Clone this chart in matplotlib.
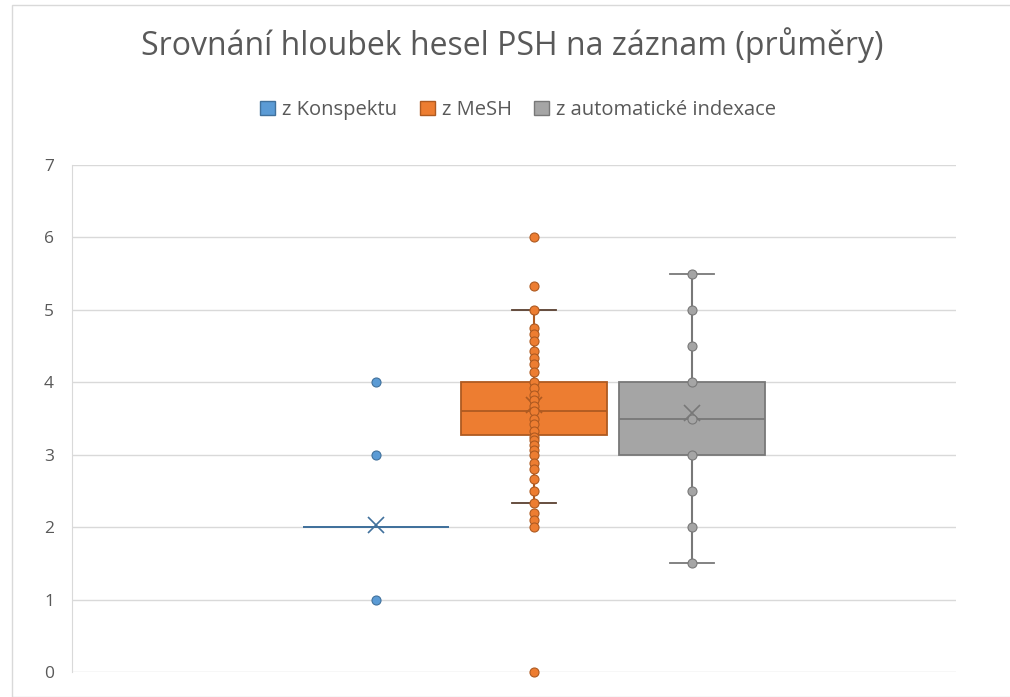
import matplotlib
matplotlib.use('Agg')
import matplotlib.pyplot as plt
from matplotlib.patches import Patch, Rectangle

# datos
series = ['z Konspektu', 'z MeSH', 'z automatické indexace']
colors = ['#5B9BD5', '#ED7D31', '#A5A5A5']
edge_colors = ['#41719C', '#AE5A21', '#787878']
cap_colors = ['#41719C', '#5a4030', '#787878']

points_konspekt = [1, 3, 4]
points_mesh = [6.0, 5.33, 5.0, 4.75, 4.67, 4.57, 4.43, 4.33, 4.25, 4.14, 4.0, 3.92,
               3.83, 3.75, 3.67, 3.6, 3.5, 3.43, 3.33, 3.25, 3.2, 3.13, 3.07, 3.0,
               2.88, 2.8, 2.67, 2.5, 2.33, 2.2, 2.1, 2.0, 0.0]
points_auto = [1.5, 2.0, 2.5, 3.0, 3.5, 4.0, 4.5, 5.0, 5.5]

q1 = [2.0, 3.27, 3.0]
medians = [2.0, 3.6, 3.5]
q3 = [2.0, 4.0, 4.0]
whisker_lo = [2.0, 2.33, 1.5]
whisker_hi = [2.0, 5.0, 5.5]
means = [2.03, 3.68, 3.57]

all_points = [points_konspekt, points_mesh, points_auto]
positions = [1, 2, 3]

fig = plt.figure(figsize=(10.1, 6.97), dpi=100)
fig.patches.append(Rectangle((12 / 1010, 0), 1.2, 1 - 5 / 697, transform=fig.transFigure,
                             fill=False, edgecolor='#d9d9d9', linewidth=1))
ax = fig.add_axes([72 / 1010, 1 - 672 / 697, 884 / 1010, 507 / 697])

for i in range(3):
    stats = [{'q1': q1[i], 'med': medians[i], 'q3': q3[i],
              'whislo': whisker_lo[i], 'whishi': whisker_hi[i], 'mean': means[i]}]
    show_caps = whisker_hi[i] > q3[i]
    ax.bxp(stats, positions=[positions[i]], widths=0.918, patch_artist=True,
           showcaps=show_caps, showfliers=False, showmeans=True, capwidths=0.28,
           boxprops=dict(facecolor=colors[i], edgecolor=edge_colors[i], linewidth=1.3),
           medianprops=dict(color=edge_colors[i], linewidth=1.3),
           whiskerprops=dict(color=edge_colors[i], linewidth=1.5),
           capprops=dict(color=cap_colors[i], linewidth=1.3),
           meanprops=dict(marker='x', markeredgecolor=edge_colors[i], markersize=11,
                          markeredgewidth=1.2), zorder=2)
    ax.plot([positions[i]] * len(all_points[i]), all_points[i], 'o', color=colors[i],
            markeredgecolor=edge_colors[i], markersize=6.5, markeredgewidth=0.8,
            zorder=3, clip_on=False)

ax.set_xlim(-0.924, 4.671)
ax.set_ylim(0, 7)
ax.set_yticks(range(8))
ax.set_xticks([])
ax.grid(axis='y', color='#d9d9d9', linewidth=1)
ax.set_axisbelow(True)
for s in ['top', 'right', 'bottom']:
    ax.spines[s].set_visible(False)
ax.spines['left'].set_color('#d9d9d9')
ax.tick_params(axis='y', length=0, pad=13, labelsize=12.5, labelcolor='#595959')
for lab in ax.get_yticklabels():
    lab.set_fontfamily('Open Sans')

fig.text(0.507, 1 - 45 / 697, 'Srovnání hloubek hesel PSH na záznam (průměry)',
         ha='center', va='center', fontsize=23, color='#595959', family='Open Sans')

handles = [Patch(facecolor=c, edgecolor=e) for c, e in zip(colors, edge_colors)]
fig.legend(handles, series, loc='center', bbox_to_anchor=(0.513, 1 - 110 / 697), ncol=3,
           frameon=False, prop={'family': 'Open Sans', 'size': 14.5}, labelcolor='#595959',
           handlelength=0.75, handleheight=0.75, handletextpad=0.35, columnspacing=1.1)

fig.savefig('out.png', dpi=100)
